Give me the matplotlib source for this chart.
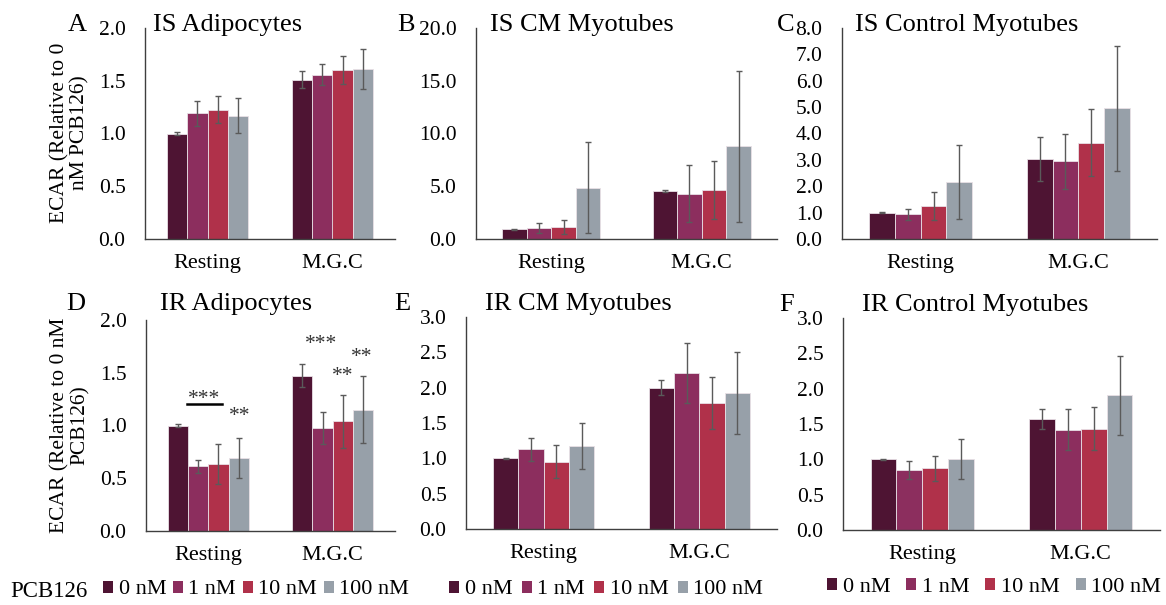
import numpy as np
import matplotlib
matplotlib.use('Agg')
import matplotlib.pyplot as plt
from matplotlib.patches import Patch

plt.rcParams['font.family'] = ['Liberation Serif', 'DejaVu Serif']

# categories and doses
categories = ['Resting', 'M.G.C']
doses = ['0 nM', '1 nM', '10 nM', '100 nM']
colors = ['#4E1433', '#8C2E5E', '#B0314A', '#97A0A9']

# each row = one dose, values for [Resting, M.G.C]
a_mean = [[1.00, 1.51], [1.19, 1.555], [1.225, 1.60], [1.17, 1.615]]
a_err = [[0.01, 0.08], [0.12, 0.10], [0.13, 0.13], [0.165, 0.19]]
b_mean = [[0.92, 4.52], [1.04, 4.30], [1.17, 4.64], [4.87, 8.78]]
b_err = [[0.05, 0.10], [0.44, 2.71], [0.66, 2.72], [4.33, 7.14]]
c_mean = [[1.00, 3.03], [0.93, 2.94], [1.25, 3.64], [2.16, 4.96]]
c_err = [[0.02, 0.82], [0.21, 1.05], [0.54, 1.27], [1.41, 2.37]]
d_mean = [[1.00, 1.473], [0.612, 0.978], [0.634, 1.038], [0.69, 1.151]]
d_err = [[0.01, 0.11], [0.065, 0.15], [0.19, 0.25], [0.19, 0.32]]
e_mean = [[1.00, 2.00], [1.127, 2.21], [0.953, 1.78], [1.175, 1.93]]
e_err = [[0.01, 0.11], [0.165, 0.42], [0.23, 0.37], [0.325, 0.58]]
f_mean = [[1.00, 1.573], [0.85, 1.417], [0.874, 1.436], [1.006, 1.904]]
f_err = [[0.01, 0.146], [0.13, 0.29], [0.175, 0.30], [0.28, 0.56]]

W, H = 1166, 605
fig = plt.figure(figsize=(W / 100, H / 100), dpi=100)

def px(l, t, r, b):
    return [l / W, 1 - b / H, (r - l) / W, (b - t) / H]

panels = [
    ('A', 'IS Adipocytes', a_mean, a_err, (145, 28, 395, 239), 2.0, 0.5, (77, 31), (153, 31)),
    ('B', 'IS CM Myotubes', b_mean, b_err, (476, 28, 777, 239), 20.0, 5.0, (406, 31), (490, 31)),
    ('C', 'IS Control Myotubes', c_mean, c_err, (842, 28, 1157, 239), 8.0, 1.0, (786, 31), (855, 31)),
    ('D', 'IR Adipocytes', d_mean, d_err, (146, 320, 395, 531), 2.0, 0.5, (76, 310), (160, 310)),
    ('E', 'IR CM Myotubes', e_mean, e_err, (466, 317, 777, 529), 3.0, 0.5, (402, 310), (485, 310)),
    ('F', 'IR Control Myotubes', f_mean, f_err, (843, 318, 1160, 530), 3.0, 0.5, (787, 311), (862, 311)),
]

bw = 0.163
x = np.arange(len(categories))
axes = {}
for letter, title, means, errs, box, ymax, step, lpos, tpos in panels:
    ax = fig.add_axes(px(*box))
    axes[letter] = ax
    for i in range(4):
        ax.bar(x + (i - 1.5) * bw, means[i], bw, color=colors[i],
               edgecolor='#E8E0E6', linewidth=0.6,
               yerr=errs[i], capsize=2.2,
               error_kw=dict(ecolor='#5A5A5A', elinewidth=1.0, capthick=1.0))
    ax.set_xlim(-0.5, 1.5)
    ax.set_ylim(0, ymax)
    ticks = np.arange(0, ymax + step / 2, step)
    ax.set_yticks(ticks)
    ax.set_yticklabels(['%.1f' % v for v in ticks])
    ax.set_xticks(x)
    ax.set_xticklabels(categories)
    ax.tick_params(axis='y', length=0, pad=14, labelsize=15.5)
    ax.tick_params(axis='x', length=0, pad=11, labelsize=16)
    for s in ['top', 'right']:
        ax.spines[s].set_visible(False)
    for s in ['left', 'bottom']:
        ax.spines[s].set_color('#3F3F3F')
        ax.spines[s].set_linewidth(1.0)
    fig.text(lpos[0] / W, 1 - lpos[1] / H, letter, fontsize=19, ha='center', va='baseline')
    fig.text(tpos[0] / W, 1 - tpos[1] / H, title, fontsize=19, ha='left', va='baseline')

# y labels
fig.text(70 / W, 1 - 133 / H, 'ECAR (Relative to 0\nnM PCB126)', rotation=90,
         ha='center', va='center', fontsize=15.5, linespacing=1.1)
fig.text(70 / W, 1 - 425 / H, 'ECAR (Relative to 0 nM\nPCB126)', rotation=90,
         ha='center', va='center', fontsize=15.5, linespacing=1.1)

# significance marks on D
axd = axes['D']
axd.plot([-0.17, 0.11], [1.204, 1.204], color='black', linewidth=1.8)
axd.text(-0.034, 1.25, '***', ha='center', va='center', fontsize=15.5, color='#333333')
axd.text(0.255, 1.09, '**', ha='center', va='center', fontsize=15.5, color='#333333')
axd.text(0.906, 1.77, '***', ha='center', va='center', fontsize=15.5, color='#333333')
axd.text(1.082, 1.46, '**', ha='center', va='center', fontsize=15.5, color='#333333')
axd.text(1.23, 1.64, '**', ha='center', va='center', fontsize=15.5, color='#333333')

# legends
handles = [Patch(facecolor=c, edgecolor='none') for c in colors]
leg_kw = dict(ncol=4, frameon=False, fontsize=16, handlelength=0.45, handleheight=0.45,
              handletextpad=0.25, borderpad=0, borderaxespad=0, loc='center left')
fig.text(10 / W, 1 - 597 / H, 'PCB126', fontsize=16.5, ha='left', va='baseline')
fig.legend(handles, doses, bbox_to_anchor=(103 / W, 1 - 590 / H), columnspacing=0.3, **leg_kw)
fig.legend(handles, doses, bbox_to_anchor=(449 / W, 1 - 590 / H), columnspacing=0.42, **leg_kw)
fig.legend(handles, doses, bbox_to_anchor=(827 / W, 1 - 587 / H), columnspacing=0.72, **leg_kw)

fig.savefig('out.png', dpi=100)
